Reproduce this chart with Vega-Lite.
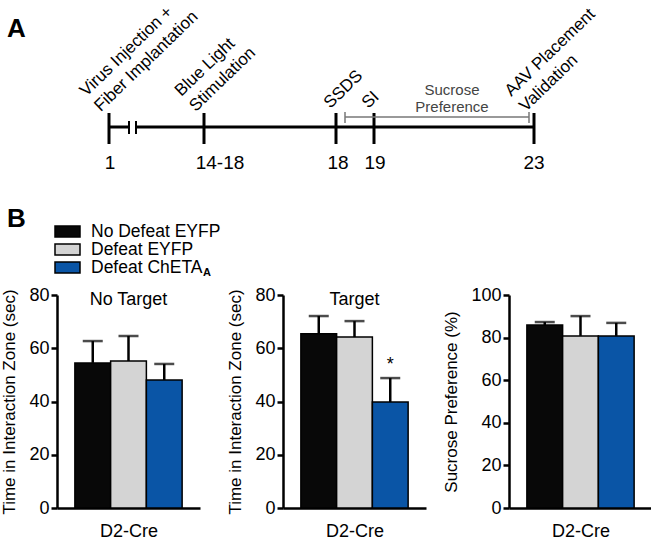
{
  "$schema": "https://vega.github.io/schema/vega-lite/v6.json",
  "padding": 0,
  "spacing": 0,
  "config": {
    "font": "Liberation Sans",
    "view": {"stroke": null},
    "axis": {"grid": false, "domainColor": "black", "domainWidth": 2.5, "tickColor": "black", "tickWidth": 2.5, "tickSize": 6, "labelColor": "black", "labelFontSize": 18, "labelFont": "Liberation Sans", "labelPadding": 2, "titleFont": "Liberation Sans", "titleFontWeight": "normal", "titleColor": "black", "titleFontSize": 17}
  },
  "vconcat": [
    {
      "width": 596,
      "height": 286,
      "resolve": {"scale": {"y": "independent"}},
      "layer": [
        {
          "layer": [
            {
              "data": {"values": [{"start": 107, "end": 127}, {"start": 134, "end": 532}]},
              "mark": {"type": "rule", "strokeWidth": 3, "color": "black"},
              "encoding": {
                "x": {"field": "start", "type": "quantitative", "scale": {"domain": [55, 651], "nice": false, "zero": false}, "axis": null},
                "x2": {"field": "end"},
                "y": {"datum": 127, "type": "quantitative", "scale": {"domain": [0, 286], "reverse": true, "nice": false, "zero": false}, "axis": null}
              }
            },
            {
              "data": {"values": [{"day": "1", "pos": 107}, {"day": "14-18", "pos": 202}, {"day": "18", "pos": 334}, {"day": "19", "pos": 372}, {"day": "23", "pos": 532}]},
              "mark": {"type": "rule", "strokeWidth": 3, "color": "black"},
              "encoding": {"x": {"field": "pos", "type": "quantitative"}, "y": {"datum": 113, "type": "quantitative"}, "y2": {"datum": 144}}
            },
            {
              "data": {"values": [{"pos": 127}, {"pos": 134}]},
              "mark": {"type": "rule", "strokeWidth": 2, "color": "black"},
              "encoding": {"x": {"field": "pos", "type": "quantitative"}, "y": {"datum": 121, "type": "quantitative"}, "y2": {"datum": 134}}
            },
            {
              "data": {"values": [{"start": 343, "end": 527}]},
              "mark": {"type": "rule", "strokeWidth": 1.5, "color": "#777777"},
              "encoding": {"x": {"field": "start", "type": "quantitative"}, "x2": {"field": "end"}, "y": {"datum": 117, "type": "quantitative"}}
            },
            {
              "data": {"values": [{"pos": 343}, {"pos": 527}]},
              "mark": {"type": "rule", "strokeWidth": 1.5, "color": "#777777"},
              "encoding": {"x": {"field": "pos", "type": "quantitative"}, "y": {"datum": 112, "type": "quantitative"}, "y2": {"datum": 123}}
            },
            {
              "data": {"values": [{"label": "1", "pos": 108}, {"label": "14-18", "pos": 218}, {"label": "18", "pos": 336}, {"label": "19", "pos": 373}, {"label": "23", "pos": 532}]},
              "mark": {"type": "text", "fontSize": 19, "baseline": "middle", "align": "center", "color": "black"},
              "encoding": {"x": {"field": "pos", "type": "quantitative"}, "y": {"datum": 163, "type": "quantitative"}, "text": {"field": "label"}}
            },
            {
              "data": {"values": [
                {"label": "Virus Injection +\nFiber Implantation", "pos": 87},
                {"label": "Blue Light\nStimulation", "pos": 182},
                {"label": "AAV Placement\nValidation", "pos": 512}
              ]},
              "mark": {"type": "text", "fontSize": 17, "angle": -44, "align": "left", "baseline": "bottom", "lineBreak": "\n", "lineHeight": 21, "clip": true, "color": "black"},
              "encoding": {"x": {"field": "pos", "type": "quantitative"}, "y": {"datum": 100, "type": "quantitative"}, "text": {"field": "label"}}
            },
            {
              "data": {"values": [
                {"label": "SSDS", "pos": 331},
                {"label": "SI", "pos": 369}
              ]},
              "mark": {"type": "text", "fontSize": 17, "angle": -44, "align": "left", "baseline": "bottom", "clip": true, "color": "black"},
              "encoding": {"x": {"field": "pos", "type": "quantitative"}, "y": {"datum": 112, "type": "quantitative"}, "text": {"field": "label"}}
            },
            {
              "data": {"values": [{"label": "Sucrose\nPreference", "pos": 450}]},
              "mark": {"type": "text", "fontSize": 15, "baseline": "middle", "align": "center", "lineBreak": "\n", "lineHeight": 17, "color": "#444444"},
              "encoding": {"x": {"field": "pos", "type": "quantitative"}, "y": {"datum": 90, "type": "quantitative"}, "text": {"field": "label"}}
            },
            {
              "data": {"values": [{"label": "A"}]},
              "mark": {"type": "text", "fontSize": 26, "fontWeight": "bold", "baseline": "middle", "align": "left", "color": "black"},
              "encoding": {"x": {"datum": 5, "type": "quantitative"}, "y": {"datum": 29, "type": "quantitative"}, "text": {"field": "label"}}
            },
            {
              "data": {"values": [{"label": "B"}]},
              "mark": {"type": "text", "fontSize": 26, "fontWeight": "bold", "baseline": "middle", "align": "left", "color": "black"},
              "encoding": {"x": {"datum": 5, "type": "quantitative"}, "y": {"datum": 219, "type": "quantitative"}, "text": {"field": "label"}}
            }
          ]
        },
        {
          "data": {"values": [{"group": "No Defeat EYFP"}, {"group": "Defeat EYFP"}, {"group": "Defeat ChETA"}]},
          "encoding": {
            "y": {"field": "group", "type": "nominal", "sort": ["No Defeat EYFP", "Defeat EYFP", "Defeat ChETA"], "scale": {"range": [222.5, 276.5], "paddingInner": 0.39, "paddingOuter": 0.195}, "axis": null}
          },
          "layer": [
            {
              "mark": {"type": "rect", "stroke": "black", "strokeWidth": 1.5},
              "encoding": {
                "x": {"datum": 53, "type": "quantitative"},
                "x2": {"datum": 78},
                "color": {"field": "group", "type": "nominal", "scale": {"domain": ["No Defeat EYFP", "Defeat EYFP", "Defeat ChETA"], "range": ["#080808", "#d4d4d4", "#0a55a6"]}, "legend": null}
              }
            },
            {
              "mark": {"type": "text", "align": "left", "baseline": "middle", "fontSize": 17.5, "color": "black"},
              "encoding": {"x": {"datum": 89, "type": "quantitative"}, "text": {"field": "group"}}
            },
            {
              "data": {"values": [{"group": "Defeat ChETA", "sub": "A"}]},
              "mark": {"type": "text", "align": "left", "baseline": "middle", "fontSize": 11, "fontWeight": "bold", "dy": 5, "color": "black"},
              "encoding": {"x": {"datum": 201, "type": "quantitative"}, "text": {"field": "sub"}}
            }
          ]
        }
      ]
    },
    {
      "hconcat": [
        {
          "width": 143,
          "height": 213,
          "data": {"values": [
            {"group": "No Defeat EYFP", "mean": 54.5, "upper": 62.7},
            {"group": "Defeat EYFP", "mean": 55.2, "upper": 64.6},
            {"group": "Defeat ChETA", "mean": 48.1, "upper": 54.1}
          ]},
          "encoding": {
            "x": {"field": "group", "type": "nominal", "sort": ["No Defeat EYFP", "Defeat EYFP", "Defeat ChETA"], "scale": {"paddingInner": 0, "paddingOuter": 0.5}, "axis": {"labels": false, "ticks": false, "title": "D2-Cre", "titlePadding": 14, "titleFontSize": 18}}
          },
          "layer": [
            {
              "mark": {"type": "bar", "stroke": "black", "strokeWidth": 1.5},
              "encoding": {
                "y": {"field": "mean", "type": "quantitative", "scale": {"domain": [0, 80], "nice": false}, "axis": {"values": [0, 20, 40, 60, 80], "title": "Time in Interaction Zone (sec)", "titlePadding": 10}},
                "color": {"field": "group", "type": "nominal", "scale": {"domain": ["No Defeat EYFP", "Defeat EYFP", "Defeat ChETA"], "range": ["#080808", "#d4d4d4", "#0a55a6"]}, "legend": null}
              }
            },
            {
              "mark": {"type": "rule", "strokeWidth": 2.5, "color": "black"},
              "encoding": {"y": {"field": "mean", "type": "quantitative"}, "y2": {"field": "upper"}}
            },
            {
              "mark": {"type": "tick", "thickness": 2.5, "size": 20, "color": "black"},
              "encoding": {"y": {"field": "upper", "type": "quantitative"}}
            },
            {
              "data": {"values": [{"group": "Defeat EYFP", "label": "No Target"}]},
              "mark": {"type": "text", "fontSize": 18, "baseline": "middle", "color": "black"},
              "encoding": {"y": {"datum": 78, "type": "quantitative"}, "text": {"field": "label"}}
            }
          ]
        },
        {
          "width": 143,
          "height": 213,
          "data": {"values": [
            {"group": "No Defeat EYFP", "mean": 65.4, "upper": 72.1},
            {"group": "Defeat EYFP", "mean": 64.2, "upper": 70.2},
            {"group": "Defeat ChETA", "mean": 39.8, "upper": 48.8}
          ]},
          "encoding": {
            "x": {"field": "group", "type": "nominal", "sort": ["No Defeat EYFP", "Defeat EYFP", "Defeat ChETA"], "scale": {"paddingInner": 0, "paddingOuter": 0.5}, "axis": {"labels": false, "ticks": false, "title": "D2-Cre", "titlePadding": 14, "titleFontSize": 18}}
          },
          "layer": [
            {
              "mark": {"type": "bar", "stroke": "black", "strokeWidth": 1.5},
              "encoding": {
                "y": {"field": "mean", "type": "quantitative", "scale": {"domain": [0, 80], "nice": false}, "axis": {"values": [0, 20, 40, 60, 80], "title": "Time in Interaction Zone (sec)", "titlePadding": 10}},
                "color": {"field": "group", "type": "nominal", "scale": {"domain": ["No Defeat EYFP", "Defeat EYFP", "Defeat ChETA"], "range": ["#080808", "#d4d4d4", "#0a55a6"]}, "legend": null}
              }
            },
            {
              "mark": {"type": "rule", "strokeWidth": 2.5, "color": "black"},
              "encoding": {"y": {"field": "mean", "type": "quantitative"}, "y2": {"field": "upper"}}
            },
            {
              "mark": {"type": "tick", "thickness": 2.5, "size": 20, "color": "black"},
              "encoding": {"y": {"field": "upper", "type": "quantitative"}}
            },
            {
              "data": {"values": [{"group": "Defeat EYFP", "label": "Target"}]},
              "mark": {"type": "text", "fontSize": 18, "baseline": "middle", "color": "black"},
              "encoding": {"y": {"datum": 78, "type": "quantitative"}, "text": {"field": "label"}}
            },
            {
              "data": {"values": [{"group": "Defeat ChETA", "label": "*", "level": 52}]},
              "mark": {"type": "text", "fontSize": 18, "baseline": "alphabetic", "color": "black"},
              "encoding": {"y": {"field": "level", "type": "quantitative"}, "text": {"field": "label"}}
            }
          ]
        },
        {
          "width": 143,
          "height": 213,
          "data": {"values": [
            {"group": "No Defeat EYFP", "mean": 85.9, "upper": 87.3},
            {"group": "Defeat EYFP", "mean": 80.8, "upper": 90.1},
            {"group": "Defeat ChETA", "mean": 80.8, "upper": 86.9}
          ]},
          "encoding": {
            "x": {"field": "group", "type": "nominal", "sort": ["No Defeat EYFP", "Defeat EYFP", "Defeat ChETA"], "scale": {"paddingInner": 0, "paddingOuter": 0.5}, "axis": {"labels": false, "ticks": false, "title": "D2-Cre", "titlePadding": 14, "titleFontSize": 18}}
          },
          "layer": [
            {
              "mark": {"type": "bar", "stroke": "black", "strokeWidth": 1.5},
              "encoding": {
                "y": {"field": "mean", "type": "quantitative", "scale": {"domain": [0, 100], "nice": false}, "axis": {"values": [0, 20, 40, 60, 80, 100], "title": "Sucrose Preference (%)", "titlePadding": 10}},
                "color": {"field": "group", "type": "nominal", "scale": {"domain": ["No Defeat EYFP", "Defeat EYFP", "Defeat ChETA"], "range": ["#080808", "#d4d4d4", "#0a55a6"]}, "legend": null}
              }
            },
            {
              "mark": {"type": "rule", "strokeWidth": 2.5, "color": "black"},
              "encoding": {"y": {"field": "mean", "type": "quantitative"}, "y2": {"field": "upper"}}
            },
            {
              "mark": {"type": "tick", "thickness": 2.5, "size": 20, "color": "black"},
              "encoding": {"y": {"field": "upper", "type": "quantitative"}}
            }
          ]
        }
      ],
      "spacing": 83,
      "bounds": "flush"
    }
  ]
}
